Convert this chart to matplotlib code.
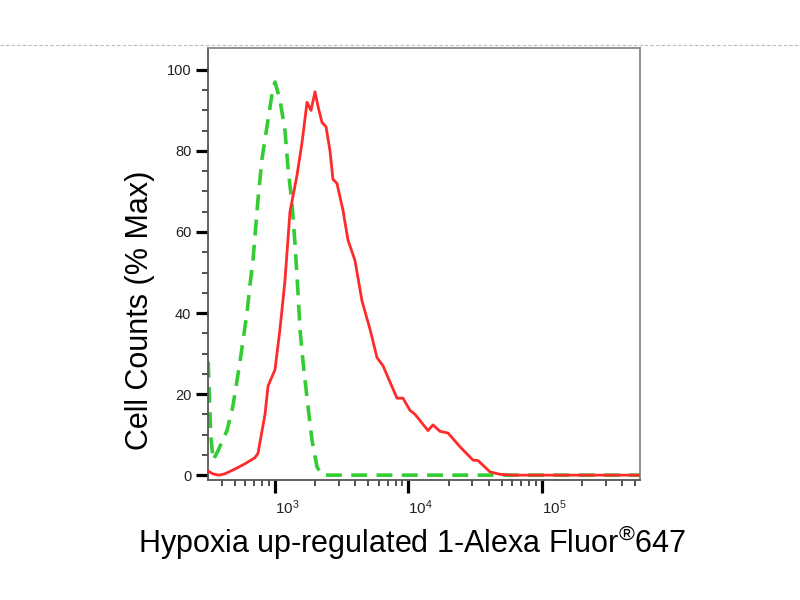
import matplotlib
matplotlib.use("Agg")
import matplotlib.pyplot as plt
from matplotlib.lines import Line2D
from matplotlib.ticker import LogLocator, FixedLocator

plt.rcParams['font.family'] = ['Liberation Sans', 'DejaVu Sans']
plt.rcParams['mathtext.fontset'] = 'custom'
plt.rcParams['mathtext.rm'] = 'Liberation Sans'
plt.rcParams['mathtext.it'] = 'Liberation Sans:italic'
plt.rcParams['mathtext.bf'] = 'Liberation Sans:bold'

# Stained sample (red, solid)
red_x = [315, 344, 380, 420, 501, 596, 708, 746, 842, 887, 1000, 1090, 1188,
         1295, 1462, 1593, 1738, 1862, 1995, 2100, 2251, 2411, 2583, 2718,
         2911, 3229, 3522, 3972, 4484, 5149, 5810, 6440, 7266, 8198, 9094,
         10250, 11190, 14000, 15270, 17220, 19770, 24320, 30420, 33180,
         40780, 48440, 60650, 542000]
red_y = [1.0, 0.3, 0.0, 0.3, 1.5, 2.8, 4.3, 5.4, 15, 22, 26, 36, 48,
         65, 74, 82, 92, 90, 94.6, 91, 87, 86, 80, 73,
         72, 65.4, 58, 53, 43, 36, 29, 27, 23, 19, 19,
         16, 15, 11, 12.4, 10.8, 10.4, 7, 3.7, 3.6,
         0.8, 0.2, 0.0, 0.0]

# Isotype control (green, dashed)
green_x = [316, 330, 344, 374, 437, 484, 547, 617, 650, 684, 746, 799, 871,
           950, 1000, 1090, 1188, 1251, 1341, 1413, 1487, 1539, 1622, 1738,
           1893, 2066, 2251, 542000]
green_y = [28, 10, 3.7, 6, 11, 17, 28, 40, 47, 53, 68, 78, 86,
           94, 97, 92.6, 85, 76, 67, 57, 45, 36, 28, 19,
           8.6, 2, 0, 0]

y_ticks = [0, 20, 40, 60, 80, 100]
x_major = [1e3, 1e4, 1e5]
x_labels = [r'$10^{3}$', r'$10^{4}$', r'$10^{5}$']
x_lim = (315, 542000)
y_lim = (-1.2, 105.4)

fig = plt.figure(figsize=(8, 6), dpi=100)
ax = fig.add_axes([0.26, 0.2, 0.54, 0.72])

ax.plot(green_x, green_y, color='#33cc33', lw=2.6, dashes=(4.4, 2.6), zorder=2)
ax.plot(red_x, red_y, color='#ff2a2a', lw=2.0, zorder=3)

ax.set_xscale('log')
ax.set_xlim(*x_lim)
ax.set_ylim(*y_lim)

ax.xaxis.set_major_locator(FixedLocator(x_major))
ax.xaxis.set_minor_locator(LogLocator(base=10, subs=range(2, 10), numticks=20))
ax.set_xticklabels(x_labels)
ax.set_yticks(y_ticks)
ax.set_yticks(range(0, 101, 5), minor=True)

for s in ax.spines.values():
    s.set_color('#888888')
    s.set_linewidth(1.3)
ax.spines['left'].set_color('#555555')
ax.spines['bottom'].set_color('#555555')

ax.tick_params(axis='both', which='major', direction='out', length=9, width=2.3,
               color='black', pad=3)
ax.tick_params(axis='y', which='major', labelsize=10.5)
ax.tick_params(axis='x', which='major', labelsize=11, pad=4)
ax.tick_params(axis='both', which='minor', direction='out', length=4, width=1.2,
               color='#333333')
for lab in ax.get_yticklabels() + ax.get_xticklabels():
    lab.set_color('#222222')
for lab in ax.get_xticklabels():
    lab.set_horizontalalignment('left')

fig.text(140 / 800, 1 - 310 / 600, 'Cell Counts (% Max)', fontsize=22,
         rotation=90, ha='center', va='center')
fig.text(412 / 800, 1 - 542 / 600,
         r'Hypoxia up-regulated 1-Alexa Fluor$^{\circledR}$647',
         fontsize=22, ha='center', va='center')

fig.add_artist(Line2D([0, 1], [0.925, 0.925], transform=fig.transFigure,
                      color='#bbbbbb', lw=0.8, ls=(0, (3, 2))))

fig.savefig('out.png', dpi=100)
